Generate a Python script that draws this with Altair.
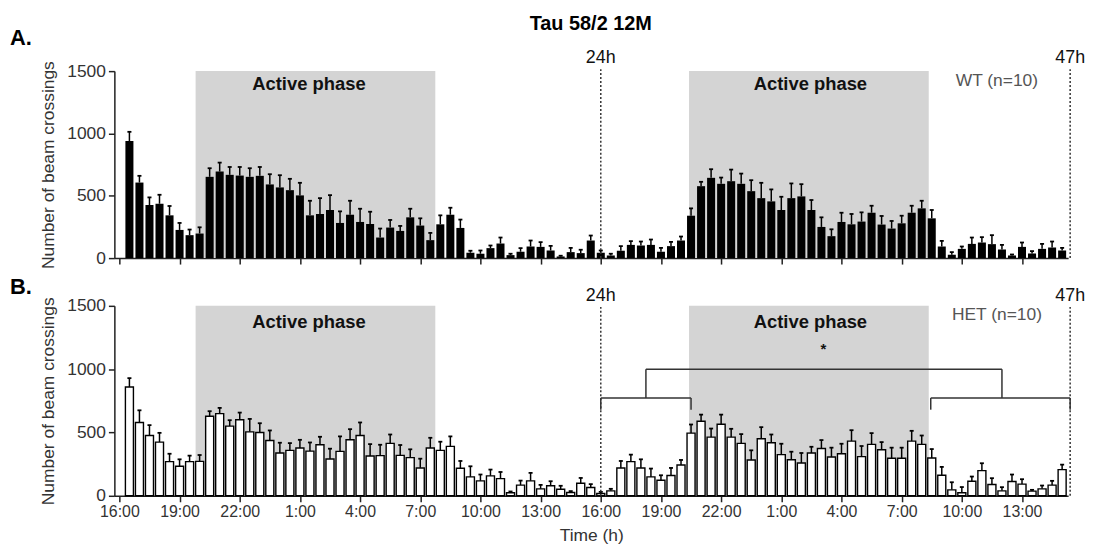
import altair as alt
import pandas as pd

FONT = "Liberation Sans"

# ---- data (30-min bins, 94 bins from 16:00) ----
wt_mean = [939, 606, 426, 436, 343, 226, 184, 197, 652, 694,
           668, 662, 652, 660, 591, 567, 545, 503, 343, 354,
           386, 282, 348, 290, 274, 165, 245, 218, 327, 261,
           144, 271, 348, 242, 43, 35, 80, 117, 24, 51,
           93, 90, 61, 13, 48, 40, 141, 43, 21, 59,
           106, 101, 106, 51, 96, 141, 340, 577, 644, 596,
           617, 596, 537, 481, 455, 386, 481, 495, 386, 250,
           176, 290, 271, 293, 364, 269, 237, 279, 364, 399,
           319, 93, 27, 74, 114, 125, 112, 69, 21, 90,
           37, 74, 85, 61]
wt_sem = [74, 54, 61, 72, 75, 56, 45, 50, 69, 72,
          63, 69, 69, 71, 82, 98, 91, 101, 117, 127,
          119, 93, 112, 106, 98, 72, 61, 40, 69, 58,
          58, 72, 56, 67, 16, 26, 21, 48, 11, 29,
          48, 38, 37, 6, 34, 27, 40, 18, 14, 37,
          30, 32, 43, 31, 34, 32, 59, 35, 69, 50,
          93, 82, 88, 123, 96, 106, 118, 98, 80, 77,
          55, 74, 83, 74, 56, 69, 61, 61, 56, 61,
          67, 45, 21, 19, 51, 43, 72, 37, 8, 35,
          19, 40, 48, 21]
het_mean = [859, 579, 476, 424, 270, 233, 270, 272, 628, 649,
            550, 600, 505, 500, 437, 338, 359, 377, 353, 403,
            291, 351, 442, 476, 314, 317, 414, 319, 301, 220,
            377, 359, 390, 217, 149, 118, 157, 136, 24, 84,
            118, 55, 79, 52, 26, 99, 65, 18, 39, 220,
            270, 220, 149, 123, 160, 243, 495, 589, 463, 565,
            463, 414, 283, 450, 419, 325, 285, 259, 338, 374,
            306, 332, 432, 309, 406, 364, 296, 296, 432, 406,
            298, 162, 47, 24, 115, 199, 89, 39, 113, 92,
            37, 55, 84, 207]
het_sem = [70, 96, 82, 73, 62, 55, 47, 50, 40, 45,
           47, 57, 102, 73, 79, 81, 57, 65, 68, 63,
           81, 118, 84, 103, 94, 86, 70, 82, 66, 73,
           81, 68, 79, 58, 84, 50, 50, 52, 10, 36,
           63, 31, 36, 27, 11, 42, 27, 13, 16, 55,
           55, 68, 66, 39, 60, 40, 68, 52, 68, 76,
           66, 73, 76, 92, 65, 86, 63, 79, 49, 66,
           74, 79, 86, 84, 89, 60, 84, 84, 81, 70,
           71, 66, 60, 45, 37, 58, 50, 29, 55, 39,
           10, 26, 34, 39]

tick_values = list(range(0, 46, 3))
tick_labels = ["16:00", "19:00", "22:00", "1:00", "4:00", "7:00", "10:00", "13:00",
               "16:00", "19:00", "22:00", "1:00", "4:00", "7:00", "10:00", "13:00"]
y_ticks = [0, 500, 1000, 1500]

active_start = [3.8, 28.4]
active_end = [15.75, 40.35]
active_mid = [9.45, 34.45]
day_marks = [24.0, 47.4]
day_labels = ["24h", "47h"]

# significance bracket (panel B): segments in hours / counts
br_x = [24.0, 24.0, 28.5, 26.25, 26.25, 40.45, 40.45, 47.4, 44.0]
br_x2 = [28.5, 24.0, 28.5, 26.25, 44.0, 47.4, 40.45, 47.4, 44.0]
br_y = [772, 680, 680, 772, 1000, 772, 680, 680, 772]
br_y2 = [772, 772, 772, 1000, 1000, 772, 772, 772, 1000]

hours = [0.5 * (i + 1) for i in range(len(wt_mean))]

W = 959
xscale = alt.Scale(domain=[-0.25, 47.3], nice=False, zero=False)
yscale = alt.Scale(domain=[0, 1500], nice=False)
label_expr = "[" + ",".join("'%s'" % t for t in tick_labels) + "][round(datum.value/3)]"


def panel(mean, sem, white, height, letter, group, show_labels, line_top,
          act_y, group_y, letter_y, day_y, extra=None):
    df = pd.DataFrame({"h": hours, "mean": mean, "sem": sem})
    df["upper"] = df["mean"] + df["sem"]
    df["left"] = df["h"] - 0.2
    df["right"] = df["h"] + 0.2
    df["cl"] = df["h"] - 0.1
    df["cr"] = df["h"] + 0.1
    df["zero"] = 0

    act = pd.DataFrame({"start": active_start, "end": active_end,
                        "lo": 0, "hi": 1500, "mid": active_mid,
                        "lab": ["Active phase", "Active phase"]})
    if show_labels:
        xaxis = alt.Axis(values=tick_values, labelExpr=label_expr, title="Time (h)",
                         titlePadding=7, labelPadding=2)
    else:
        xaxis = alt.Axis(values=tick_values, labels=False, title=None)
    yaxis = alt.Axis(values=y_ticks, format="d", title="Number of beam crossings",
                     titlePadding=9, labelPadding=3, labelFontSize=17.5)

    shade = alt.Chart(act).mark_rect(color="#d4d4d4").encode(
        x=alt.X("start:Q", scale=xscale, axis=xaxis), x2="end:Q",
        y=alt.Y("lo:Q", scale=yscale, axis=yaxis), y2="hi:Q")
    act_text = alt.Chart(act).mark_text(font=FONT, fontSize=18.5, fontWeight="bold",
                                        color="#111", baseline="middle").encode(
        x=alt.X("mid:Q", scale=xscale), y=alt.value(act_y), text="lab:N")

    err = alt.Chart(df).mark_rule(color="black", strokeWidth=1.5).encode(
        x=alt.X("h:Q", scale=xscale),
        y=alt.Y("mean:Q", scale=yscale), y2="upper:Q")
    cap = alt.Chart(df).mark_rule(color="black", strokeWidth=1.8).encode(
        x=alt.X("cl:Q", scale=xscale), x2="cr:Q",
        y=alt.Y("upper:Q", scale=yscale))
    if white:
        bar_mark = alt.Chart(df).mark_rect(fill="white", stroke="black", strokeWidth=1.4)
    else:
        bar_mark = alt.Chart(df).mark_rect(fill="black")
    bars = bar_mark.encode(
        x=alt.X("left:Q", scale=xscale), x2="right:Q",
        y=alt.Y("mean:Q", scale=yscale), y2="zero:Q")

    days = pd.DataFrame({"pos": day_marks, "lab": day_labels, "lo": 0, "top": line_top})
    dlines = alt.Chart(days).mark_rule(color="#333", strokeWidth=1.5,
                                       strokeDash=[2, 2]).encode(
        x=alt.X("pos:Q", scale=xscale),
        y=alt.Y("lo:Q", scale=yscale), y2="top:Q")
    dtext = alt.Chart(days).mark_text(font=FONT, fontSize=18, color="#111",
                                      baseline="middle").encode(
        x=alt.X("pos:Q", scale=xscale), y=alt.value(day_y), text="lab:N")

    grp = pd.DataFrame({"x": [43.75], "lab": [group]})
    gtext = alt.Chart(grp).mark_text(font=FONT, fontSize=17.5, color="#555",
                                     baseline="middle").encode(
        x=alt.X("x:Q", scale=xscale), y=alt.value(group_y), text="lab:N")

    let = pd.DataFrame({"lab": [letter]})
    ltext = alt.Chart(let).mark_text(font=FONT, fontSize=22, fontWeight="bold",
                                     color="black", align="left", baseline="middle").encode(
        x=alt.value(-105), y=alt.value(letter_y), text="lab:N")

    layers = [shade, act_text, err, cap, bars, dlines, dtext, gtext, ltext]
    if extra:
        layers += extra
    return alt.layer(*layers).properties(width=W, height=height)


title_df = pd.DataFrame({"x": [23.5], "lab": ["Tau 58/2 12M"]})
title = alt.Chart(title_df).mark_text(font=FONT, fontSize=20, fontWeight="bold",
                                      color="black", baseline="middle").encode(
    x=alt.X("x:Q", scale=xscale), y=alt.value(-47), text="lab:N")

br = pd.DataFrame({"x": br_x, "x2": br_x2, "y": br_y, "y2": br_y2})
bracket = alt.Chart(br).mark_rule(color="#333", strokeWidth=1.5).encode(
    x=alt.X("x:Q", scale=xscale), x2="x2:Q",
    y=alt.Y("y:Q", scale=yscale), y2="y2:Q")
star_df = pd.DataFrame({"x": [35.1], "y": [1160], "lab": ["*"]})
star = alt.Chart(star_df).mark_text(font=FONT, fontSize=15, fontWeight="bold",
                                    color="#111", baseline="middle").encode(
    x=alt.X("x:Q", scale=xscale),
    y=alt.Y("y:Q", scale=yscale), text="lab:N")

panel_a = panel(wt_mean, wt_sem, False, 188, "A.", "WT (n=10)", False, 1520,
                act_y=13, group_y=10, letter_y=-33, day_y=-13, extra=[title])
panel_b = panel(het_mean, het_sem, True, 191, "B.", "HET (n=10)", True, 1490,
                act_y=16, group_y=9, letter_y=-19, day_y=-10, extra=[bracket, star])

chart = alt.vconcat(panel_a, panel_b, spacing=48, bounds="flush").properties(
    padding={"left": 10, "top": 13, "right": 8, "bottom": 6}
).configure_view(strokeWidth=0).configure_axis(
    labelFont=FONT, labelFontSize=16, labelColor="#333",
    titleFont=FONT, titleFontSize=17.5, titleColor="#333", titleFontWeight="normal",
    domainColor="#222", domainWidth=1.5, tickColor="#222", tickWidth=1.5,
    tickSize=6, grid=False)

chart.save("out.html", embed_options={"renderer": "svg", "actions": False})
